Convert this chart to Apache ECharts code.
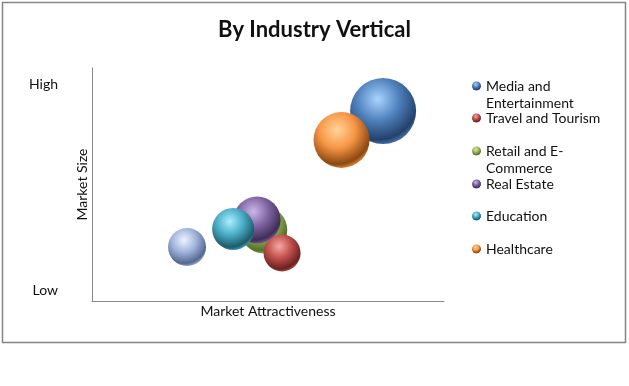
<!DOCTYPE html>
<html>
<head>
<meta charset="utf-8">
<script src="https://cdn.jsdelivr.net/npm/echarts@6/dist/echarts.min.js"></script>
<style>
html,body{margin:0;padding:0;background:#fff;}
#main{width:629px;height:386px;}
</style>
</head>
<body>
<div id="main"></div>
<script>
// ---- data ----
var seriesNames = ['Media and Entertainment', 'Healthcare', 'Retail and E-Commerce', 'Real Estate', 'Education', 'Travel and Tourism', 'Others'];
var attractiveness = [82.7, 70.9, 48.8, 46.9, 40.1, 54.0, 27.0];
var marketSize = [81.5, 69.1, 30.5, 34.8, 30.9, 20.6, 23.2];
var bubbleSize = [66, 56, 47, 47, 42, 37, 38];
var legendNames = ['Media and Entertainment', 'Travel and Tourism', 'Retail and E-Commerce', 'Real Estate', 'Education', 'Healthcare'];
var legendLines = [['Media and', 'Entertainment'], ['Travel and Tourism'], ['Retail and E-', 'Commerce'], ['Real Estate'], ['Education'], ['Healthcare']];
var yTickValues = [4.3, 93.1];
var yTickLabels = ['Low', 'High'];

// ---- styles ----
var palette = {
  'Media and Entertainment': ['#a8d4ff', '#4f81bd', '#24416a'],
  'Healthcare': ['#ffd59a', '#f79646', '#8a4810'],
  'Retail and E-Commerce': ['#d4ec9c', '#9bbb59', '#55702a'],
  'Real Estate': ['#cdb6ec', '#8064a2', '#3f2d58'],
  'Education': ['#a8f0ff', '#4bacc6', '#1c5a6a'],
  'Travel and Tourism': ['#f5a8a4', '#c0504d', '#6a2220'],
  'Others': ['#eef4ff', '#9fb4dc', '#56688e']
};
function sphere(n) {
  var c = palette[n];
  return new echarts.graphic.RadialGradient(0.42, 0.32, 0.72, [
    {offset: 0, color: c[0]},
    {offset: 0.45, color: c[1]},
    {offset: 0.85, color: c[2]},
    {offset: 1, color: c[1]}
  ]);
}
var FONT = 'Lato';
var LINE_H = 17;
var legendFirstLineY = [86, 118, 151, 184, 216, 249];

var series = seriesNames.map(function (n, i) {
  return {
    name: n,
    type: 'scatter',
    data: [[attractiveness[i], marketSize[i], bubbleSize[i]]],
    symbolSize: function (d) { return d[2]; },
    itemStyle: {color: sphere(n), opacity: 1},
    emphasis: {disabled: true},
    z: 2
  };
});

// one legend component per entry, so each marker lines up with the first text line
var legends = legendNames.map(function (n, i) {
  var lines = legendLines[i];
  var twoLine = lines.length > 1;
  // a leading empty line keeps the marker centred on the first text line
  var text = twoLine ? '\n' + lines.join('\n') : lines[0];
  var boxHalf = twoLine ? LINE_H * 1.5 : LINE_H / 2;
  return {
    orient: 'vertical',
    left: 472,
    top: legendFirstLineY[i] - boxHalf,
    padding: 0,
    itemWidth: 9,
    itemHeight: 9,
    itemGap: 4,
    icon: 'circle',
    selectedMode: false,
    data: [n],
    formatter: function () { return text; },
    textStyle: {fontFamily: FONT, fontSize: 14, lineHeight: LINE_H, color: '#111'}
  };
});

var option = {
  animation: false,
  backgroundColor: '#fff',
  title: {
    text: 'By Industry Vertical',
    left: 'center',
    top: 14,
    textStyle: {fontFamily: FONT, fontSize: 22, fontWeight: 'bold', color: '#111'}
  },
  graphic: [{
    type: 'rect',
    shape: {x: 2.5, y: 2.5, width: 623, height: 340},
    style: {fill: 'none', stroke: '#858585', lineWidth: 1.5},
    silent: true,
    z: 0
  }],
  legend: legends,
  grid: {left: 92, right: 185, top: 68, bottom: 85, containLabel: false},
  xAxis: {
    type: 'value', min: 0, max: 100,
    name: 'Market Attractiveness',
    nameLocation: 'middle',
    nameGap: 3,
    nameMoveOverlap: false,
    nameTextStyle: {fontFamily: FONT, fontSize: 14, color: '#111', verticalAlign: 'top'},
    axisLine: {show: true, lineStyle: {color: '#888', width: 1}},
    axisTick: {show: false},
    axisLabel: {show: false},
    splitLine: {show: false}
  },
  yAxis: {
    type: 'value', min: 0, max: 100,
    name: 'Market Size',
    nameLocation: 'middle',
    nameGap: 3,
    nameMoveOverlap: false,
    nameTextStyle: {fontFamily: FONT, fontSize: 14, color: '#111'},
    axisLine: {show: true, lineStyle: {color: '#888', width: 1}},
    axisTick: {show: false},
    axisLabel: {
      show: true,
      customValues: yTickValues,
      margin: 34,
      fontFamily: FONT, fontSize: 14, color: '#111',
      formatter: function (v) { return yTickLabels[yTickValues.indexOf(v)]; }
    },
    splitLine: {show: false}
  },
  series: series
};

var chart = echarts.init(document.getElementById('main'), null, {renderer: 'canvas'});
chart.setOption(option);
</script>
</body>
</html>
